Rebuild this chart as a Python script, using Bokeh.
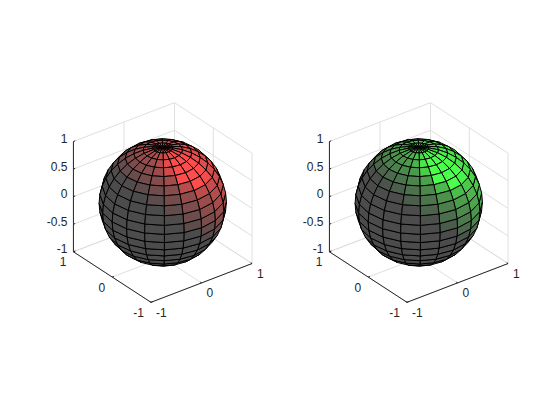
import numpy as np
from bokeh.plotting import figure
from bokeh.layouts import row
from bokeh.embed import file_html
from bokeh.resources import INLINE
from bokeh.core.properties import value

# sphere mesh, degrees
latitudes = [-90,-81,-72,-63,-54,-45,-36,-27,-18,-9,0,9,18,27,36,45,54,63,72,81,90]
longitudes = [-180,-162,-144,-126,-108,-90,-72,-54,-36,-18,0,18,36,54,72,90,108,126,144,162,180]
axis_ticks_xy = [-1,0,1]
axis_ticks_z = [-1,-0.5,0,0.5,1]
xy_labels = ["-1","0","1"]
z_labels = ["-1","-0.5","0","0.5","1"]
light_dir = [0.63,-0.14,0.76]
panel_light_rgb = [(1,0,0),(0,1,0)]
ambient, diffuse, specular, shininess = 0.3, 0.6, 0.9, 10

az, el = np.radians(-37.5), np.radians(30)
R = np.array([np.cos(az), np.sin(az), 0.0])
V = np.array([np.cos(el)*np.sin(az), -np.cos(el)*np.cos(az), np.sin(el)])
U = np.cross(V, R)
L = np.array(light_dir, float); L /= np.linalg.norm(L)

def proj(x, y, z):
    return float(R[0]*x+R[1]*y), float(U[0]*x+U[1]*y+U[2]*z)

def panel(light, width, cx_px):
    S = 63.7; H = 404
    cy_px = 202.0
    p = figure(width=width, height=H, output_backend="svg", toolbar_location=None,
               x_range=(-cx_px/S, (width-cx_px)/S), y_range=(-(H-cy_px)/S, cy_px/S),
               min_border=0, outline_line_color=None, background_fill_color="white")
    p.axis.visible = False
    p.grid.visible = False

    def seg(a, b, color, w=1.0):
        x0, y0 = proj(*a); x1, y1 = proj(*b)
        p.line([x0, x1], [y0, y1], line_color=color, line_width=w)

    grid = "#dfdfdf"
    for t in axis_ticks_z:
        seg((-1,1,t),(1,1,t),grid); seg((1,1,t),(1,-1,t),grid)
    for t in axis_ticks_xy:
        seg((t,1,-1),(t,1,1),grid); seg((t,-1,-1),(t,1,-1),grid)
        seg((1,t,-1),(1,t,1),grid); seg((-1,t,-1),(1,t,-1),grid)

    la = np.radians(latitudes); lo = np.radians(longitudes)
    faces = []
    for i in range(len(la)-1):
        for j in range(len(lo)-1):
            c = [(la[i],lo[j]),(la[i],lo[j+1]),(la[i+1],lo[j+1]),(la[i+1],lo[j])]
            pts = np.array([[np.cos(a)*np.cos(b), np.cos(a)*np.sin(b), np.sin(a)] for a,b in c])
            n = pts.mean(axis=0); n /= np.linalg.norm(n)
            d = float(n @ V)
            if d <= -0.02:
                continue
            nl = float(n @ L)
            rf = 2*nl*n - L
            sp = max(float(rf @ V), 0.0)**shininess if nl > 0 else 0.0
            col = [min(1.0, ambient + (diffuse*max(nl,0)+specular*sp)*light[k]) for k in range(3)]
            xy = [proj(*q) for q in pts]
            faces.append((d, [q[0] for q in xy], [q[1] for q in xy],
                          "#%02x%02x%02x" % tuple(int(round(255*v)) for v in col)))
    faces.sort(key=lambda f: f[0])
    p.patches([f[1] for f in faces], [f[2] for f in faces], fill_color=[f[3] for f in faces],
              line_color="black", line_width=1.0)

    ink = "#262626"
    seg((-1,1,-1),(-1,1,1),ink); seg((-1,1,-1),(-1,-1,-1),ink); seg((-1,-1,-1),(1,-1,-1),ink)
    tl = 0.035
    font = value("Liberation Sans")
    def lab(a, s, dx, dy, align):
        x, y = proj(*a)
        p.text([x],[y],text=[s],text_font=font,text_font_size="12px",text_color=ink,
               x_offset=dx,y_offset=dy,text_align=align,text_baseline="middle")
    for t, s in zip(axis_ticks_z, z_labels):
        seg((-1,1,t),(-1+tl,1,t),ink)
        lab((-1,1,t),s,-6,-3,"right")
    for t, s in zip(axis_ticks_xy, xy_labels):
        seg((t,-1,-1),(t,-1+tl,-1),ink)
        lab((t,-1,-1),s,5,10,"left")
        seg((-1,t,-1),(-1+tl,t,-1),ink)
        lab((-1,t,-1),s,-7,10,"right")
    return p

p1 = panel(panel_light_rgb[0], 272, 162.25)
p2 = panel(panel_light_rgb[1], 272, 146.25)
page = row(p1, p2, spacing=0)
open("out.html","w").write(file_html(page, INLINE))
